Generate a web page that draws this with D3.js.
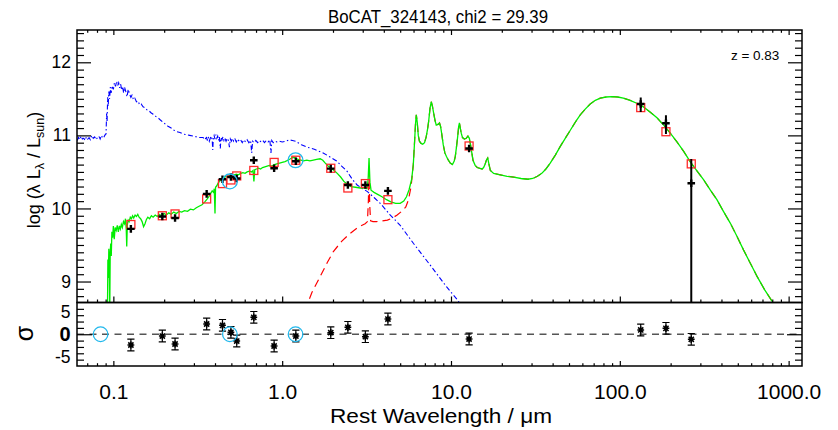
<!DOCTYPE html>
<html>
<head>
<meta charset="utf-8">
<script src="https://cdn.jsdelivr.net/npm/d3@7"></script>
<style>
  body { margin: 0; background: #fff; }
  svg text { font-family: "Liberation Sans", Arial, Helvetica, sans-serif; fill: #000; }
</style>
</head>
<body>
<svg id="sed" width="838" height="430"></svg>
<script>
// ---------------------------------------------------------------------------
// Source summary
const sourceName = "BoCAT_324143";
const chi2 = 29.39;
const redshift = 0.83;

// Photometric bands (rest-frame wavelength, micron)
const bandWave   = [0.127, 0.195, 0.232, 0.357, 0.443, 0.497, 0.538, 0.679, 0.896, 1.205, 1.94, 2.45, 3.11, 4.23, 12.8, 133, 187.6, 265];
// Observed log(lambda L_lambda / L_sun) and fractional (linear) errors
const obsLogL    = [9.72, 9.89, 9.87, 10.20, 10.40, 10.43, 10.41, 10.66, 10.55, 10.645, 10.545, 10.32, 10.32, 10.24, 10.82, 11.43, 11.165, 10.345];
const obsErrFrac = [0.04, 0.03, 0.03, 0.03, 0.03, 0.03, 0.03, 0.03, 0.03, 0.03, 0.03, 0.03, 0.03, 0.04, 0.05, 0.222, 0.288, 1.14];
// Model photometry in the same bands
const modelLogL  = [9.78, 9.90, 9.925, 10.13, 10.34, 10.39, 10.445, 10.52, 10.63, 10.66, 10.55, 10.28, 10.34, 10.12, 10.855, 11.38, 11.05, 10.61];
// Normalised residuals (obs - model) / error and their bars
const residual   = [-2.37, -0.39, -2.15, 2.26, 1.97, 0.43, -1.49, 3.74, -2.59, -0.39, 0.34, 1.53, -0.54, 3.36, -1.05, 0.94, 1.31, -1.11];
const residualBar = [1.28, 1.28, 1.28, 1.28, 1.28, 1.28, 1.28, 1.28, 1.28, 1.28, 1.28, 1.28, 1.28, 1.28, 1.28, 1.28, 1.28, 1.28];

// Flagged bands (circled)
const flagWave = [0.084, 0.49, 1.2];
const flagLogL = [null, 10.37, 10.66];

// Axis ticks
const xTickValues = [0.1, 1, 10, 100, 1000];
const xTickLabels = ["0.1", "1.0", "10.0", "100.0", "1000.0"];
const yTickValues = [9, 10, 11, 12];
const yTickLabels = ["9", "10", "11", "12"];
const resTickValues = [5, 0, -5];
const resTickLabels = ["5", "0", "-5"];

// Unattenuated stellar spectrum [lambda, log L]
const stellarSED = [
  [0.0610,10.93],[0.0622,10.97],[0.0632,10.94],[0.0645,10.99],[0.0655,10.95],[0.0668,10.96],[0.0680,10.93],
  [0.0692,10.98],[0.0705,10.95],[0.0718,10.97],[0.0730,10.94],[0.0745,11.00],[0.0760,10.96],[0.0775,10.98],
  [0.0790,10.94],[0.0805,10.97],[0.0820,10.99],[0.0835,10.95],[0.0850,11.00],[0.0865,10.96],[0.0880,10.98],
  [0.0895,11.01],[0.0905,11.02],[0.0912,11.30],[0.0918,11.18],[0.0925,11.52],[0.0932,11.40],[0.0940,11.60],
  [0.0950,11.50],[0.0960,11.66],[0.0970,11.58],[0.0985,11.68],[0.1000,11.63],[0.1015,11.72],[0.1030,11.67],
  [0.1045,11.74],[0.1060,11.68],[0.1075,11.72],[0.1090,11.65],[0.1105,11.70],[0.1120,11.62],[0.1135,11.67],
  [0.1150,11.58],[0.1165,11.66],[0.1185,11.60],[0.1205,11.53],[0.1225,11.63],[0.1245,11.57],[0.1270,11.52],
  [0.1290,11.55],[0.1315,11.49],[0.1340,11.51],[0.1370,11.46],[0.1400,11.47],[0.1430,11.42],[0.1460,11.43],
  [0.1500,11.39],[0.1540,11.38],[0.1580,11.35],[0.1620,11.34],[0.1670,11.31],[0.1720,11.29],[0.1780,11.26],
  [0.1840,11.24],[0.1900,11.21],[0.1970,11.18],[0.2040,11.15],[0.2120,11.12],[0.2200,11.10],[0.2290,11.07],
  [0.2380,11.05],[0.2480,11.04],[0.2580,11.02],[0.2700,11.01],[0.2830,11.00],[0.2970,10.99],[0.3100,10.98],
  [0.3250,10.97],[0.3400,10.97],[0.3500,10.94],[0.355,10.99],[0.360,10.93],[0.365,10.98],[0.370,10.92],
  [0.375,10.96],[0.380,10.99],[0.385,10.94],[0.388,10.80],[0.391,10.97],[0.395,11.00],[0.400,10.95],
  [0.405,11.01],[0.410,10.96],[0.415,10.99],[0.420,10.93],[0.425,10.98],[0.430,10.82],[0.434,10.97],
  [0.440,10.94],[0.446,10.98],[0.452,10.93],[0.458,10.96],[0.465,10.92],[0.472,10.96],[0.480,10.93],
  [0.487,10.84],[0.493,10.95],[0.500,10.92],[0.508,10.96],[0.516,10.92],[0.525,10.95],[0.535,10.91],
  [0.545,10.95],[0.556,10.92],[0.567,10.94],[0.580,10.90],[0.593,10.94],[0.607,10.91],[0.620,10.94],
  [0.635,10.90],[0.650,10.93],[0.660,10.76],[0.668,10.92],[0.682,10.90],[0.698,10.93],[0.715,10.90],
  [0.732,10.93],[0.750,10.91],[0.768,10.93],[0.786,10.90],[0.805,10.93],[0.825,10.91],[0.845,10.94],
  [0.858,10.76],[0.868,10.93],[0.885,10.90],[0.905,10.92],[0.930,10.91],[0.960,10.92],[1.000,10.91],
  [1.05,10.92],[1.10,10.94],[1.15,10.93],[1.20,10.92],[1.30,10.87],[1.40,10.84],[1.55,10.81],[1.75,10.76],
  [1.90,10.71],[2.10,10.65],[2.25,10.58],[2.42,10.51],[2.60,10.40],[2.78,10.32],[3.00,10.27],[3.20,10.23],
  [3.50,10.15],[3.81,10.07],[4.37,9.91],[5.00,9.77],[6.00,9.52],[7.50,9.23],[9.40,8.93],[10.9,8.75],[11.6,8.66]
];

// Best-fit total (attenuated stars + dust) [lambda, log L]
const totalSED = [
  [0.0922,8.50],[0.0928,9.30],[0.0934,9.05],[0.0940,9.45],[0.0946,9.20],[0.0952,8.60],[0.0958,9.40],
  [0.0965,9.52],[0.0972,9.35],[0.0980,9.68],[0.0990,9.60],[0.1000,9.76],[0.1012,9.58],[0.1025,9.74],
  [0.1040,9.70],[0.1055,9.77],[0.1070,9.68],[0.1086,9.76],[0.1100,9.72],[0.1115,9.78],[0.1130,9.74],
  [0.1148,9.82],[0.1165,9.79],[0.1180,9.86],[0.1192,9.72],[0.1200,9.48],[0.1210,9.78],[0.1225,9.84],
  [0.1240,9.82],[0.1260,9.88],[0.1280,9.86],[0.1300,9.90],[0.1320,9.87],[0.1345,9.91],[0.1370,9.89],
  [0.1395,9.92],[0.1420,9.88],[0.1450,9.86],[0.1480,9.82],[0.1510,9.75],[0.1540,9.79],[0.1570,9.85],
  [0.1600,9.88],[0.1640,9.86],[0.1680,9.90],[0.1720,9.88],[0.1770,9.91],[0.1820,9.89],[0.1870,9.92],
  [0.1930,9.90],[0.2000,9.93],[0.2060,9.91],[0.2130,9.94],[0.2200,9.92],[0.2280,9.95],[0.2360,9.93],
  [0.2450,9.96],[0.2540,9.95],[0.2640,9.97],[0.2750,9.96],[0.2860,9.99],[0.2980,9.98],[0.3100,10.01],
  [0.3220,10.03],[0.3350,10.05],[0.3480,10.09],[0.3600,10.13],[0.3700,10.17],[0.3780,10.21],[0.3850,10.24],
  [0.3920,10.22],[0.3960,10.27],[0.4000,9.93],[0.4030,10.29],[0.4100,10.31],[0.4180,10.35],[0.4260,10.37],
  [0.4350,10.40],[0.4450,10.41],[0.4560,10.43],[0.4680,10.44],[0.4800,10.43],[0.4920,10.45],[0.5050,10.44],
  [0.5200,10.46],[0.5350,10.47],[0.5500,10.46],[0.5680,10.48],[0.5850,10.49],[0.6030,10.48],[0.6200,10.50],
  [0.6400,10.51],[0.6600,10.50],[0.6720,10.52],[0.6800,10.37],[0.6880,10.53],[0.7050,10.54],[0.7250,10.55],
  [0.7450,10.54],[0.7650,10.56],[0.7900,10.57],[0.8150,10.58],[0.8400,10.59],[0.8700,10.58],[0.9000,10.60],
  [0.9300,10.61],[0.9650,10.62],[1.000,10.63],[1.040,10.64],[1.080,10.66],[1.120,10.68],[1.160,10.70],
  [1.200,10.69],[1.240,10.67],[1.290,10.66],[1.340,10.65],[1.400,10.66],[1.460,10.65],[1.530,10.66],
  [1.600,10.67],[1.680,10.68],[1.740,10.66],[1.800,10.62],[1.870,10.58],[1.950,10.55],[2.030,10.52],
  [2.120,10.48],[2.220,10.43],[2.320,10.37],[2.430,10.33],[2.560,10.30],[2.720,10.29],[2.900,10.28],
  [3.050,10.28],[3.180,10.27],[3.230,10.40],[3.270,10.69],[3.310,10.36],[3.360,10.25],[3.500,10.22],
  [3.700,10.19],[3.900,10.16],[4.150,10.12],[4.400,10.09],[4.700,10.07],[5.000,10.07],[5.250,10.10],
  [5.450,10.16],[5.650,10.26],[5.850,10.40],[5.980,10.60],[6.080,10.90],[6.160,11.15],[6.230,11.28],
  [6.310,11.18],[6.400,11.00],[6.500,10.92],[6.650,10.89],[6.800,10.88],[6.970,10.90],[7.130,10.98],
  [7.280,11.10],[7.380,11.20],[7.520,11.38],[7.640,11.46],[7.760,11.40],[7.900,11.30],[8.050,11.20],
  [8.180,11.14],[8.380,11.15],[8.550,11.17],[8.680,11.12],[8.800,11.03],[9.000,10.87],[9.200,10.76],
  [9.400,10.71],[9.650,10.66],[9.900,10.62],[10.20,10.60],[10.45,10.65],[10.60,10.71],[10.80,10.86],
  [10.95,10.98],[11.10,11.12],[11.22,11.17],[11.35,11.10],[11.50,11.03],[11.70,10.97],[12.00,10.95],
  [12.30,10.96],[12.60,10.99],[12.85,10.96],[13.10,10.85],[13.50,10.66],[13.90,10.59],[14.30,10.56],
  [14.80,10.55],[15.30,10.54],[15.60,10.56],[15.90,10.60],[16.20,10.66],[16.50,10.69],[16.80,10.60],
  [17.10,10.52],[17.90,10.48],[19.6,10.46],[21.5,10.44],[23.5,10.43],[26.0,10.41],[28.5,10.40],[30.5,10.41],
  [32.5,10.44],[34.5,10.48],[36.5,10.54],[38.7,10.62],[41.5,10.73],[44.4,10.85],[47.5,10.96],[50.9,11.07],
  [54.5,11.18],[58.3,11.28],[62.4,11.36],[66.8,11.43],[71.6,11.48],[76.6,11.51],[83,11.525],[90,11.53],
  [97,11.525],[105,11.51],[115,11.48],[126,11.44],[138,11.39],[151,11.32],[166,11.24],[182,11.14],
  [199,11.03],[218,10.91],[239,10.78],[261,10.64],[287,10.51],[314,10.39],[344,10.25],[376,10.12],
  [411,9.96],[451,9.80],[494,9.62],[541,9.43],[593,9.25],[650,9.07],[720,8.89],[798,8.73],[850,8.62]
];

// Dust emission below 6 micron; at longer wavelengths it follows the total
const dustNIR = [
  [1.36,8.60],[1.50,8.85],[1.68,9.07],[1.85,9.26],[2.01,9.41],[2.25,9.55],[2.53,9.66],[2.85,9.75],
  [3.10,9.79],[3.20,9.82],[3.24,10.10],[3.27,10.49],[3.30,10.05],[3.34,9.83],[3.45,9.82],[3.62,9.82],
  [3.90,9.83],[4.20,9.84],[4.50,9.87],[4.80,9.91],[5.10,9.96],[5.40,10.02],[5.60,10.12],[5.80,10.30]
];
const dustSED = dustNIR.concat(totalSED.filter(d => d[0] >= 5.98));

// ---------------------------------------------------------------------------
const svg = d3.select("#sed");
const L = 77, R = 802, T = 30, MID = 302.5, B = 366;

const x  = d3.scaleLog().domain([0.0609, 1200]).range([L, R]);
const y  = d3.scaleLinear().domain([8.713, 12.442]).range([MID, T]);
const yr = d3.scaleLinear().domain([-7, 7]).range([B, MID]);

const defs = svg.append("defs");
defs.append("clipPath").attr("id", "clipTop")
  .append("rect").attr("x", L).attr("y", T).attr("width", R - L).attr("height", MID - T);
defs.append("clipPath").attr("id", "clipRes")
  .append("rect").attr("x", L).attr("y", MID).attr("width", R - L).attr("height", B - MID);

// Title and redshift
svg.append("text").attr("x", 438).attr("y", 23.3).attr("text-anchor", "middle")
  .attr("font-size", 18).attr("textLength", 220).attr("lengthAdjust", "spacingAndGlyphs")
  .text(`${sourceName}, chi2 = ${chi2.toFixed(2)}`);

// ---------------------------------------------------------------------------
// Model curves (top panel)
const line = d3.line().x(d => x(d[0])).y(d => y(d[1]));
const curves = svg.append("g").attr("clip-path", "url(#clipTop)");

curves.append("path").datum(stellarSED).attr("d", line)
  .attr("fill", "none").attr("stroke", "#0000ff").attr("stroke-width", 1.1)
  .attr("stroke-dasharray", "5,2.5,1.5,2.5");
curves.append("path").datum(dustSED).attr("d", line)
  .attr("fill", "none").attr("stroke", "#ff0000").attr("stroke-width", 1.2)
  .attr("stroke-dasharray", "8,5");
curves.append("path").datum(totalSED).attr("d", line)
  .attr("fill", "none").attr("stroke", "#00ee00").attr("stroke-width", 1.3);

// Model photometry
const topMarks = svg.append("g").attr("clip-path", "url(#clipTop)");
topMarks.selectAll("rect.model").data(bandWave).join("rect").attr("class", "model")
  .attr("x", (d, i) => x(d) - 4).attr("y", (d, i) => y(modelLogL[i]) - 4)
  .attr("width", 8).attr("height", 8)
  .attr("fill", "none").attr("stroke", "#ff2a2a").attr("stroke-width", 1.3);

// Observed photometry with error bars
topMarks.selectAll("line.err").data(bandWave).join("line").attr("class", "err")
  .attr("x1", d => x(d)).attr("x2", d => x(d))
  .attr("y1", (d, i) => y(obsLogL[i] + Math.log10(1 + obsErrFrac[i])))
  .attr("y2", (d, i) => obsErrFrac[i] >= 1 ? MID : y(obsLogL[i] + Math.log10(1 - obsErrFrac[i])))
  .attr("stroke", "#000").attr("stroke-width", 2);
topMarks.selectAll("path.obs").data(bandWave).join("path").attr("class", "obs")
  .attr("transform", (d, i) => `translate(${x(d)},${y(obsLogL[i])})`)
  .attr("d", "M-3.8,0H3.8M0,-3.8V3.8")
  .attr("stroke", "#000").attr("stroke-width", 2.4).attr("fill", "none");

// Flagged bands
topMarks.selectAll("circle.flag").data(flagWave.map((w, i) => [w, flagLogL[i]]).filter(d => d[1] !== null))
  .join("circle").attr("class", "flag")
  .attr("cx", d => x(d[0])).attr("cy", d => y(d[1])).attr("r", 7.4)
  .attr("fill", "none").attr("stroke", "#22b8ec").attr("stroke-width", 1.3);

svg.append("text").attr("x", 779.3).attr("y", 60).attr("text-anchor", "end")
  .attr("font-size", 13.5).text(`z = ${redshift.toFixed(2)}`);

// ---------------------------------------------------------------------------
// Residual panel
const res = svg.append("g").attr("clip-path", "url(#clipRes)");
res.append("line").attr("x1", L).attr("x2", R).attr("y1", yr(0)).attr("y2", yr(0))
  .attr("stroke", "#555").attr("stroke-width", 1.3).attr("stroke-dasharray", "7,5.5");

const resPts = bandWave.map((w, i) => ({ w, r: residual[i], e: residualBar[i] }));
const rg = res.selectAll("g.resid").data(resPts).join("g").attr("class", "resid")
  .attr("transform", d => `translate(${x(d.w)},0)`);
rg.append("path")
  .attr("d", d => `M0,${yr(d.r + d.e)}V${yr(d.r - d.e)}M-3.6,${yr(d.r + d.e)}H3.6M-3.6,${yr(d.r - d.e)}H3.6`)
  .attr("stroke", "#000").attr("stroke-width", 1.2).attr("fill", "none");
rg.append("path")
  .attr("transform", d => `translate(0,${yr(d.r)})`)
  .attr("d", "M-3.4,0H3.4M0,-3.6V3.6M-2.6,-2.6L2.6,2.6M-2.6,2.6L2.6,-2.6")
  .attr("stroke", "#000").attr("stroke-width", 1.5).attr("fill", "none");

res.selectAll("circle.flag").data(flagWave).join("circle").attr("class", "flag")
  .attr("cx", d => x(d)).attr("cy", yr(0)).attr("r", 7.3)
  .attr("fill", "none").attr("stroke", "#22b8ec").attr("stroke-width", 1.3);

// ---------------------------------------------------------------------------
// Axes
const xMinor = x.ticks().filter(v => !xTickValues.some(m => Math.abs(m - v) / m < 1e-6));
const tickStyle = g => {
  g.select(".domain").remove();
  g.selectAll(".tick line").attr("stroke", "#000").attr("stroke-width", 1.2);
};

function xTicks(yPos, major, minor, dir) {
  const mk = dir === "up" ? d3.axisBottom : d3.axisTop;
  svg.append("g").attr("transform", `translate(0,${yPos})`)
    .call(mk(x).tickValues(xTickValues).tickSize(-major).tickFormat("")).call(tickStyle);
  svg.append("g").attr("transform", `translate(0,${yPos})`)
    .call(mk(x).tickValues(xMinor).tickSize(-minor).tickFormat("")).call(tickStyle);
}
xTicks(T, 5, 2.8, "down");
xTicks(MID, 6, 3, "up");
xTicks(B, 5, 2.8, "up");

// x tick labels and title
const xl = svg.append("g").attr("transform", `translate(0,${B})`)
  .call(d3.axisBottom(x).tickValues(xTickValues).tickSize(0).tickPadding(18.5)
    .tickFormat((d, i) => xTickLabels[i]));
xl.select(".domain").remove();
xl.selectAll("text").attr("font-size", 21).attr("font-family", null).attr("fill", "#000");

svg.append("text").attr("x", 441).attr("y", 423.3).attr("text-anchor", "middle")
  .attr("font-size", 21).attr("textLength", 222).attr("lengthAdjust", "spacingAndGlyphs")
  .text("Rest Wavelength / \u03bcm");

// top-panel y ticks
const yMinor = d3.range(88, 125).map(v => v / 10).filter(v => v % 1 !== 0);
[[d3.axisLeft, L], [d3.axisRight, R]].forEach(([ax, xp]) => {
  svg.append("g").attr("transform", `translate(${xp},0)`)
    .call(ax(y).tickValues(yTickValues).tickSize(-14).tickFormat("")).call(tickStyle);
  svg.append("g").attr("transform", `translate(${xp},0)`)
    .call(ax(y).tickValues(yMinor).tickSize(-7).tickFormat("")).call(tickStyle);
});
const yl = svg.append("g").attr("transform", `translate(${L},0)`)
  .call(d3.axisLeft(y).tickValues(yTickValues).tickSize(0).tickPadding(6)
    .tickFormat((d, i) => yTickLabels[i]));
yl.select(".domain").remove();
yl.selectAll("text").attr("font-size", 17.5).attr("font-family", null).attr("fill", "#000");

// residual y ticks
const resMinor = d3.range(-4, 5).filter(k => k !== 0).map(k => k * 1.4);
[[d3.axisLeft, L], [d3.axisRight, R]].forEach(([ax, xp]) => {
  svg.append("g").attr("transform", `translate(${xp},0)`)
    .call(ax(yr).tickValues([0]).tickSize(-15).tickFormat("")).call(tickStyle);
  svg.append("g").attr("transform", `translate(${xp},0)`)
    .call(ax(yr).tickValues(resMinor).tickSize(-7).tickFormat("")).call(tickStyle);
});
svg.append("g").selectAll("text").data(resTickValues).join("text")
  .attr("x", 70.5).attr("y", d => yr(d)).attr("dy", "0.36em").attr("text-anchor", "end")
  .attr("font-size", d => d === 0 ? 20 : 17.5).attr("font-weight", d => d === 0 ? "bold" : null)
  .text((d, i) => resTickLabels[i]);

// panel frames
[[T, MID], [MID, B]].forEach(([a, b]) => {
  svg.append("rect").attr("x", L).attr("y", a).attr("width", R - L).attr("height", b - a)
    .attr("fill", "none").attr("stroke", "#000").attr("stroke-width", 1.5);
});

// y-axis titles
const yt = svg.append("text").attr("transform", "translate(40,170) rotate(-90)")
  .attr("text-anchor", "middle").attr("font-size", 18);
yt.append("tspan").text("log (\u03bb L");
yt.append("tspan").attr("font-size", 12.5).attr("dy", 4).text("\u03bb");
yt.append("tspan").attr("dy", -4).text(" / L");
yt.append("tspan").attr("font-size", 12.5).attr("dy", 4).text("sun");
yt.append("tspan").attr("dy", -4).text(")");

svg.append("text").attr("transform", "translate(33,333.5) rotate(-90)")
  .attr("text-anchor", "middle").attr("font-size", 25).text("\u03c3");
</script>
</body>
</html>
